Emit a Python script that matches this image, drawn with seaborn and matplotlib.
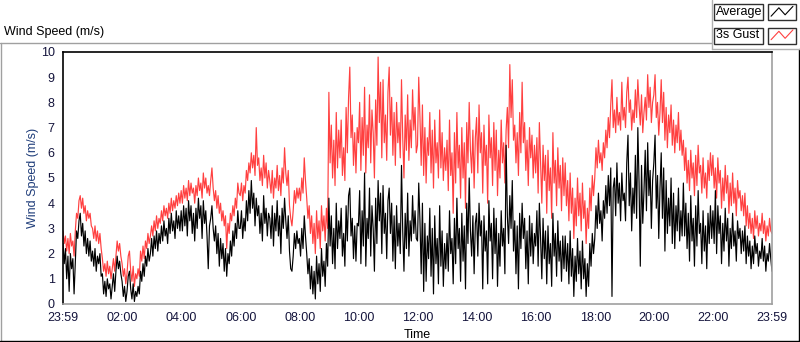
import matplotlib
matplotlib.use("Agg")
import matplotlib.pyplot as plt
from matplotlib.lines import Line2D
from matplotlib.patches import Rectangle
import seaborn as sns
import numpy as np
import pandas as pd

# one reading every 2.5 minutes, starting 23:59 (one row per hour)
minutes = np.arange(0, 1440.1, 2.5)

gust = [
    2.9, 2.4, 2.7, 2.1, 2.6, 2.0, 2.8, 2.3, 2.5, 1.9, 2.9, 3.6, 3.4, 4.1, 4.3, 3.8, 4.2, 3.6, 3.9, 3.3, 3.7, 3.4, 3.6, 3.1,
    3.0, 2.6, 3.1, 2.5, 2.9, 2.4, 2.8, 2.2, 1.8, 1.3, 1.6, 1.1, 1.7, 1.2, 1.5, 1.0, 1.4, 1.8, 1.3, 1.9, 2.5, 2.1, 2.4, 1.9,
    1.6, 1.1, 1.4, 0.8, 1.2, 1.9, 2.1, 1.3, 0.9, 1.5, 0.7, 1.2, 1.0, 1.4, 1.1, 2.1, 1.7, 2.3, 1.8, 2.5, 2.2, 2.8, 2.4, 2.7,
    3.1, 2.7, 3.3, 2.9, 3.5, 3.0, 3.4, 3.2, 3.7, 3.3, 3.9, 3.5, 3.8, 3.4, 4.0, 3.6, 4.2, 3.7, 4.1, 3.8, 4.3, 3.9, 4.4, 4.0,
    4.5, 4.0, 4.7, 4.2, 4.6, 4.1, 4.9, 4.3, 4.8, 4.4, 4.6, 4.0, 4.7, 4.3, 5.0, 4.5, 4.8, 4.2, 5.2, 4.6, 5.0, 4.4, 4.7, 4.3,
    4.9, 5.4, 4.6, 4.1, 4.5, 3.8, 4.3, 3.6, 4.0, 3.3, 3.7, 3.1, 3.5, 2.2, 3.2, 2.8, 3.6, 3.3, 3.9, 3.5, 4.2, 3.8, 4.8, 4.4,
    4.3, 4.8, 4.1, 4.7, 4.4, 5.3, 4.9, 5.6, 5.2, 6.0, 5.4, 5.9, 5.1, 7.0, 5.5, 5.8, 4.9, 5.4, 4.7, 5.9, 5.0, 5.6, 4.6, 5.3,
    4.9, 4.4, 5.3, 4.2, 5.0, 4.6, 5.5, 4.5, 5.1, 4.3, 5.4, 4.8, 6.2, 5.2, 4.7, 5.3, 3.9, 3.4, 3.1, 3.7, 4.5, 4.0, 4.6, 4.2,
    4.6, 4.1, 5.0, 4.4, 5.8, 4.9, 4.2, 3.4, 3.9, 2.8, 3.5, 2.4, 3.2, 2.0, 3.7, 2.6, 3.3, 2.2, 3.9, 2.9, 3.5, 2.5, 3.8, 3.0,
    8.4, 5.6, 7.1, 5.0, 6.5, 4.7, 7.6, 5.4, 6.9, 5.8, 7.3, 5.1, 6.2, 4.9, 7.8, 6.0, 8.2, 9.4, 6.6, 7.5, 5.5, 6.8, 5.2, 7.0,
    6.4, 8.0, 5.3, 7.4, 5.9, 8.6, 5.2, 7.1, 6.2, 8.3, 5.6, 7.7, 6.8, 5.0, 8.1, 6.3, 9.8, 7.2, 8.8, 5.8, 8.9, 6.4, 7.5, 5.7,
    8.4, 9.4, 6.7, 8.2, 5.9, 7.6, 5.5, 8.0, 6.4, 7.2, 5.8, 8.9, 6.6, 5.0, 7.5, 6.1, 8.3, 5.7, 7.3, 6.2, 8.5, 6.9, 7.8, 6.0,
    6.3, 9.0, 7.4, 5.5, 7.9, 5.1, 7.0, 4.8, 6.6, 5.9, 7.6, 5.2, 6.9, 4.6, 7.3, 5.6, 6.4, 5.0, 7.7, 5.4, 6.8, 4.9, 6.2, 5.3,
    6.5, 4.5, 7.3, 5.1, 6.0, 3.6, 6.8, 4.8, 7.6, 5.4, 6.3, 4.2, 7.0, 5.0, 6.4, 3.8, 7.2, 5.6, 8.0, 6.1, 5.2, 6.9, 4.6, 6.6,
    7.4, 5.2, 7.9, 6.0, 6.8, 4.4, 7.1, 5.5, 6.3, 4.0, 7.5, 5.8, 6.6, 4.7, 7.2, 5.3, 6.9, 4.3, 6.1, 5.0, 7.3, 5.6, 6.4, 4.8,
    6.9, 7.8, 6.2, 9.5, 7.4, 8.9, 6.5, 7.1, 5.6, 6.8, 5.1, 7.6, 6.0, 8.8, 6.4, 7.2, 5.3, 6.5, 4.7, 7.0, 5.8, 6.7, 5.0, 6.3,
    5.2, 6.6, 4.4, 7.2, 5.6, 4.0, 6.3, 4.9, 5.9, 3.6, 6.1, 4.5, 5.4, 3.4, 6.8, 4.8, 5.7, 3.9, 6.2, 4.6, 5.5, 3.7, 5.8, 4.3,
    5.6, 3.9, 4.9, 3.3, 5.2, 3.6, 4.6, 2.6, 4.2, 3.1, 5.0, 3.5, 4.4, 2.9, 4.8, 3.4, 4.1, 2.4, 3.8, 3.0, 4.6, 3.7, 5.1, 4.3,
    5.0, 6.2, 5.4, 6.5, 5.6, 6.0, 5.3, 6.4, 5.8, 6.9, 6.2, 7.4, 6.6, 7.9, 8.9, 7.0, 7.7, 6.8, 8.2, 7.1, 7.6, 6.9, 8.8, 7.3,
    7.8, 7.0, 8.4, 9.0, 7.6, 8.1, 6.9, 7.7, 7.2, 8.5, 7.4, 8.9, 7.9, 7.1, 8.3, 6.8, 7.6, 8.2, 7.3, 9.1, 7.8, 8.6, 7.2, 8.0,
    8.3, 9.1, 7.4, 8.0, 6.7, 7.6, 8.9, 7.2, 8.4, 6.5, 7.8, 6.2, 7.5, 6.8, 7.9, 6.3, 7.3, 6.0, 7.1, 6.4, 7.6, 6.1, 6.9, 5.9,
    6.5, 5.3, 6.2, 4.8, 5.7, 4.5, 6.1, 5.0, 5.6, 4.3, 5.9, 4.7, 6.3, 5.2, 5.5, 4.4, 5.8, 4.6, 5.2, 4.2, 5.7, 4.9, 6.0, 5.1,
    5.9, 4.6, 5.4, 4.2, 5.8, 4.8, 5.3, 3.8, 5.0, 4.1, 5.5, 4.4, 5.1, 3.6, 4.8, 3.9, 5.2, 4.0, 4.6, 3.5, 4.9, 4.2, 4.5, 3.7,
    4.3, 3.5, 4.4, 3.1, 3.9, 3.0, 3.6, 2.8, 3.4, 2.6, 3.7, 3.0, 3.5, 2.7, 3.2, 2.9, 3.6, 2.8, 3.3, 2.5, 3.1, 2.7, 3.4, 2.9,
    2.8,
]

average = [
    2.4, 1.6, 2.2, 1.0, 1.9, 0.5, 2.0, 1.4, 1.8, 0.4, 1.6, 2.9, 2.6, 3.3, 3.6, 2.7, 3.2, 2.3, 2.9, 2.0, 2.6, 1.9, 2.5, 1.7,
    2.1, 1.5, 2.2, 1.3, 1.9, 1.6, 2.0, 1.1, 1.2, 0.4, 0.9, 0.3, 1.0, 0.6, 0.8, 0.2, 0.7, 1.2, 0.5, 1.3, 1.9, 1.4, 1.7, 1.2,
    0.9, 0.3, 0.7, 0.1, 0.5, 1.1, 1.3, 0.6, 0.2, 0.8, 0.1, 0.5, 0.3, 0.7, 0.4, 1.3, 0.9, 1.6, 1.1, 1.9, 1.5, 2.2, 1.7, 2.0,
    2.6, 1.9, 2.7, 2.2, 2.9, 2.1, 2.8, 2.4, 3.1, 2.5, 3.3, 2.7, 3.0, 2.4, 3.4, 2.8, 3.6, 2.9, 3.3, 2.6, 3.7, 3.0, 3.5, 2.9,
    3.7, 2.9, 3.9, 3.1, 3.8, 2.7, 4.1, 3.3, 3.9, 2.8, 3.6, 2.5, 3.8, 3.0, 4.2, 3.4, 3.9, 2.6, 4.1, 3.2, 3.7, 2.7, 1.4, 3.1,
    3.4, 3.9, 3.0, 2.5, 3.1, 2.0, 2.8, 1.5, 2.6, 1.8, 2.4, 1.3, 2.2, 1.1, 2.0, 1.6, 2.5, 1.9, 2.9, 2.3, 3.2, 2.6, 3.7, 3.0,
    3.0, 3.7, 2.6, 3.4, 2.9, 4.1, 3.3, 4.5, 3.6, 4.9, 3.8, 4.4, 3.1, 4.2, 3.5, 3.9, 2.8, 3.6, 2.5, 4.3, 3.2, 3.8, 2.7, 3.6,
    3.4, 2.6, 3.9, 2.3, 3.6, 2.9, 4.1, 2.7, 3.5, 2.0, 3.8, 3.0, 4.2, 3.3, 2.6, 3.5, 2.1, 1.4, 1.3, 1.9, 2.8, 2.2, 2.9, 2.4,
    2.6, 1.9, 3.0, 2.2, 3.5, 2.7, 2.0, 1.2, 1.8, 0.6, 1.5, 0.4, 1.3, 0.2, 1.9, 0.8, 1.6, 0.5, 2.2, 1.1, 1.7, 0.7, 2.4, 1.5,
    4.2, 2.3, 3.5, 1.6, 3.0, 1.4, 4.0, 2.2, 3.3, 2.6, 3.8, 1.9, 2.8, 1.5, 3.9, 2.5, 4.3, 4.6, 2.7, 3.4, 1.8, 3.1, 1.7, 3.2,
    3.1, 4.5, 1.6, 3.7, 2.3, 5.2, 1.5, 3.4, 2.6, 4.6, 1.9, 3.9, 3.0, 1.3, 4.2, 2.4, 4.9, 3.3, 4.4, 2.0, 4.7, 2.8, 3.6, 1.8,
    4.1, 4.6, 2.8, 4.0, 1.7, 3.5, 1.4, 3.9, 2.3, 3.2, 2.0, 5.5, 2.9, 1.3, 3.6, 2.2, 4.4, 1.9, 3.3, 2.5, 4.3, 2.8, 3.7, 2.6,
    2.5, 4.8, 3.3, 1.2, 4.0, 0.5, 3.2, 0.9, 2.7, 1.8, 3.8, 1.1, 3.0, 0.4, 3.5, 1.6, 2.6, 0.8, 3.9, 1.5, 2.9, 0.7, 2.4, 1.4,
    2.8, 1.3, 3.7, 2.0, 2.6, 0.8, 3.4, 1.6, 4.2, 2.2, 3.0, 0.9, 3.6, 1.7, 3.1, 0.6, 4.0, 2.4, 5.0, 2.9, 1.9, 3.5, 1.2, 3.2,
    3.6, 1.9, 4.0, 2.7, 3.3, 0.6, 3.5, 2.1, 2.9, 0.8, 4.1, 2.5, 3.2, 1.0, 3.8, 2.0, 3.4, 0.7, 2.8, 1.5, 3.7, 2.3, 3.0, 1.2,
    6.3, 3.5, 2.4, 4.3, 3.0, 4.9, 2.1, 3.3, 1.2, 3.1, 0.6, 3.6, 2.2, 4.0, 2.6, 3.4, 1.4, 2.9, 0.8, 3.5, 1.9, 3.2, 1.6, 2.8,
    2.3, 3.7, 1.5, 4.0, 2.6, 1.0, 3.4, 1.8, 2.9, 0.8, 3.1, 1.6, 2.4, 0.7, 3.6, 1.9, 2.8, 1.1, 3.3, 1.7, 2.5, 0.9, 2.7, 1.4,
    2.7, 1.3, 2.4, 0.8, 2.9, 1.1, 2.2, 0.3, 1.9, 0.9, 2.6, 1.2, 2.1, 0.6, 2.5, 1.0, 1.8, 0.3, 1.6, 0.7, 2.4, 1.5, 2.8, 2.0,
    2.6, 3.9, 3.0, 4.4, 3.2, 3.7, 2.5, 4.1, 3.4, 4.7, 3.6, 5.1, 3.9, 5.4, 0.3, 4.6, 5.0, 3.5, 5.6, 4.0, 4.8, 3.3, 5.2, 4.1,
    4.4, 3.3, 5.6, 6.7, 3.9, 5.2, 2.9, 4.6, 3.6, 5.9, 3.4, 7.0, 4.8, 1.5, 5.5, 3.2, 4.5, 6.1, 3.7, 6.4, 4.3, 5.3, 3.0, 4.9,
    5.6, 6.7, 3.8, 5.1, 2.6, 4.6, 6.0, 3.4, 5.4, 2.1, 4.9, 2.8, 4.2, 3.1, 5.0, 2.4, 4.4, 2.2, 3.9, 2.9, 4.6, 2.5, 3.7, 2.7,
    4.8, 2.7, 4.0, 2.2, 3.6, 1.7, 4.3, 2.5, 3.4, 1.5, 3.9, 2.3, 4.5, 2.8, 3.2, 1.6, 3.7, 2.1, 3.1, 1.4, 3.6, 2.4, 3.9, 2.6,
    3.7, 2.4, 4.5, 2.0, 3.9, 2.8, 3.5, 1.6, 3.2, 2.1, 3.8, 2.5, 3.4, 1.5, 3.0, 2.2, 3.6, 2.3, 2.9, 1.7, 3.3, 2.6, 3.0, 2.0,
    2.9, 2.1, 3.1, 1.6, 2.7, 1.9, 2.5, 1.4, 2.3, 1.6, 2.7, 2.0, 2.4, 1.5, 2.1, 1.8, 2.6, 1.7, 2.3, 1.3, 2.0, 1.7, 2.4, 1.8,
    1.3,
]

tick_minutes = [0, 121, 241, 361, 481, 601, 721, 841, 961, 1081, 1201, 1321, 1440]
tick_labels = ["23:59", "02:00", "04:00", "06:00", "08:00", "10:00", "12:00",
               "14:00", "16:00", "18:00", "20:00", "22:00", "23:59"]
series_names = ["3s Gust", "Average"]
series_colors = {"3s Gust": "#ff4040", "Average": "#000000"}

df = pd.DataFrame({"minute": minutes, "3s Gust": gust, "Average": average})
long_df = df.melt(id_vars="minute", var_name="series", value_name="speed")

sns.set_style("white")
plt.rcParams["font.family"] = ["Liberation Sans", "DejaVu Sans"]
plt.rcParams["font.size"] = 9

W, H = 800, 342
fig = plt.figure(figsize=(W / 100, H / 100), dpi=100)


def fx(x):
    return x / W


def fy(y):
    return 1 - y / H


ax = fig.add_axes([fx(63), fy(304), (772 - 63) / W, (304 - 52) / H])
sns.lineplot(data=long_df, x="minute", y="speed", hue="series", hue_order=series_names,
             palette=series_colors, linewidth=0.85, legend=False, ax=ax)

ax.set_xlim(0, 1440)
ax.set_ylim(0, 10)
ax.set_xticks(tick_minutes)
ax.set_xticklabels(tick_labels)
ax.set_xticks(np.arange(1, 1440, 15), minor=True)
ax.set_yticks(range(0, 11))
ax.tick_params(which="major", direction="out", length=4, width=1, color="black",
               labelcolor="#14143c", labelsize=9, pad=2)
ax.tick_params(which="minor", axis="x", direction="out", length=2.5, width=1, color="black")
ax.set_xlabel("Time", fontsize=9, color="black", labelpad=3)
ax.set_ylabel("Wind Speed (m/s)", fontsize=9, color="#1f3d7a", labelpad=1)
ax.grid(False)
for side in ["left", "top"]:
    ax.spines[side].set_color("black")
    ax.spines[side].set_linewidth(1.2)
for side in ["right", "bottom"]:
    ax.spines[side].set_color("#a0a0a0")
    ax.spines[side].set_linewidth(1.2)

# panel title and frame
fig.text(fx(4), fy(32), "Wind Speed (m/s)", fontsize=9, color="black", va="center", ha="left")
frame = [
    ((0, 42.5), (712, 42.5), "#a0a0a0"),
    ((1, 42.5), (1, 342), "#a0a0a0"),
    ((0, 341), (800, 341), "black"),
    ((799, 49), (799, 342), "black"),
    ((712, 0), (712, 49), "#b0b0b0"),
    ((712, 49), (800, 49), "#b0b0b0"),
]
for (x0, y0), (x1, y1), c in frame:
    fig.add_artist(Line2D([fx(x0), fx(x1)], [fy(y0), fy(y1)], color=c, lw=1,
                          transform=fig.transFigure))

# LabVIEW-style legend: label box plus icon box
for i, name in enumerate(["Average", "3s Gust"]):
    top = 4 + i * 23.5
    fig.add_artist(Rectangle((fx(714), fy(top + 16)), 49 / W, 16 / H, transform=fig.transFigure,
                             facecolor="white", edgecolor="#303030", lw=1, zorder=1))
    fig.text(fx(716), fy(top + 8), name, fontsize=9, color="black", va="center", ha="left")
    fig.add_artist(Rectangle((fx(768), fy(top + 16)), 28 / W, 16 / H, transform=fig.transFigure,
                             facecolor="white", edgecolor="#303030", lw=1, zorder=1))
    icon = fig.add_axes([fx(769), fy(top + 15), 26 / W, 14 / H])
    icon.set_zorder(5)
    icon.patch.set_alpha(0)
    icon.plot([0.08, 0.38, 0.62, 0.92], [0.2, 0.8, 0.3, 0.9], color=series_colors[name], lw=0.8)
    icon.set_xlim(0, 1)
    icon.set_ylim(0, 1)
    icon.axis("off")

fig.savefig("out.png", dpi=100)
